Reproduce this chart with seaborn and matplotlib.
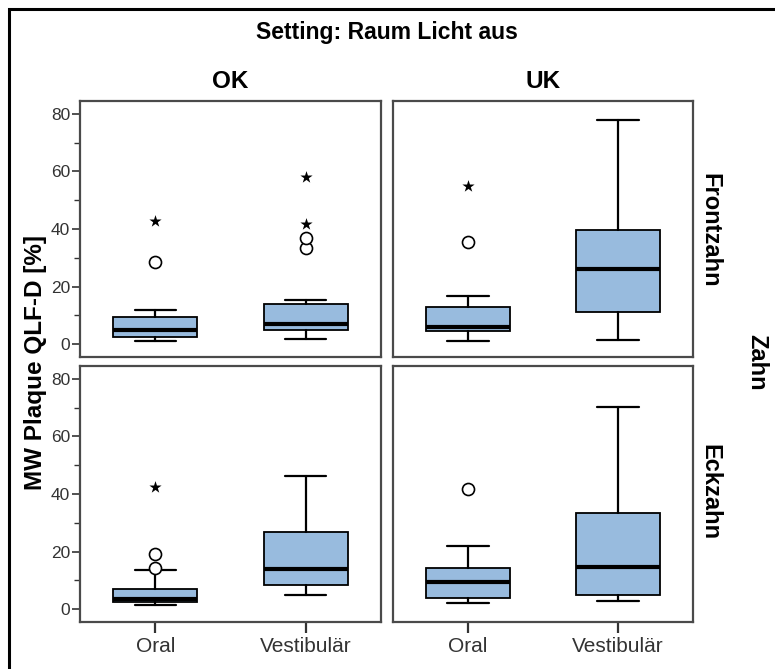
import numpy as np
import pandas as pd
import matplotlib
matplotlib.use("Agg")
import matplotlib.pyplot as plt
import matplotlib.patches as mpatches
import seaborn as sns

# ---- data ----
zahn = ["Frontzahn", "Frontzahn", "Frontzahn", "Frontzahn", "Eckzahn", "Eckzahn", "Eckzahn", "Eckzahn"]
kiefer = ["OK", "OK", "UK", "UK", "OK", "OK", "UK", "UK"]
seite = ["Oral", "Vestibulär", "Oral", "Vestibulär", "Oral", "Vestibulär", "Oral", "Vestibulär"]
whislo = [1.0, 1.6, 1.0, 1.5, 1.4, 4.9, 2.0, 2.9]
q1 = [2.5, 4.9, 4.6, 11.0, 2.5, 8.4, 3.7, 4.8]
med = [4.75, 6.8, 6.0, 26.2, 3.5, 13.9, 9.3, 14.7]
q3 = [9.4, 14.0, 12.8, 39.8, 7.0, 26.9, 14.2, 33.3]
whishi = [11.9, 15.4, 16.8, 77.9, 13.5, 46.4, 21.8, 70.1]
outliers = [[28.6], [33.3, 37.0], [35.6], [], [14.4, 19.3], [], [41.7], []]
extremes = [[42.8], [41.6, 58.2], [55.1], [], [42.3], [], [], []]

seite_order = ["Oral", "Vestibulär"]
kiefer_order = ["OK", "UK"]
zahn_order = ["Frontzahn", "Eckzahn"]
y_ticks = [0, 20, 40, 60, 80]

df = pd.DataFrame({"Zahn": zahn, "Kiefer": kiefer, "Seite": seite,
                   "whislo": whislo, "q1": q1, "med": med, "q3": q3, "whishi": whishi,
                   "out": outliers, "ext": extremes})

sns.set_theme(style="white")
plt.rcParams["font.family"] = ["Liberation Sans", "DejaVu Sans"]
plt.rcParams["text.color"] = "black"

BOX_COLOR = "#98bbde"

def draw(data, **kw):
    ax = plt.gca()
    stats = []
    pos = []
    for _, r in data.iterrows():
        stats.append(dict(whislo=r.whislo, q1=r.q1, med=r.med, q3=r.q3,
                          whishi=r.whishi, fliers=[]))
        pos.append(seite_order.index(r.Seite))
    ax.bxp(stats, positions=pos, widths=0.555, patch_artist=True,
           showfliers=False, capwidths=0.275,
           boxprops=dict(facecolor=BOX_COLOR, edgecolor="black", linewidth=1.3),
           medianprops=dict(color="black", linewidth=3),
           whiskerprops=dict(color="black", linewidth=1.6),
           capprops=dict(color="black", linewidth=1.6))
    for _, r in data.iterrows():
        x = seite_order.index(r.Seite)
        if len(r.out):
            ax.scatter([x] * len(r.out), r.out, s=75, facecolors="white",
                       edgecolors="black", linewidths=1.2, zorder=4)
        if len(r.ext):
            ax.scatter([x] * len(r.ext), r.ext, s=85, marker="*", color="black",
                       linewidths=0, zorder=4)

g = sns.FacetGrid(df, row="Zahn", col="Kiefer", row_order=zahn_order,
                  col_order=kiefer_order, sharex=True, sharey=True,
                  height=3, aspect=1.1, despine=False)
g.map_dataframe(draw)
fig = g.figure
fig.set_size_inches(7.75, 6.69)
fig.set_dpi(100)

L, R1, L2, R2 = 80, 381, 393, 693
rows = [(101, 357), (366, 622)]
W, H = 775, 669
cols = [(L, R1), (L2, R2)]
for i in range(2):
    for j in range(2):
        ax = g.axes[i, j]
        x0, x1 = cols[j]
        y0, y1 = rows[i]
        ax.set_position([x0 / W, 1 - y1 / H, (x1 - x0) / W, (y1 - y0) / H])
        ax.set_xlim(-0.5, 1.5)
        ax.set_ylim(-4.5, 84.5)
        ax.set_title("")
        ax.set_xlabel("")
        ax.set_ylabel("")
        for s in ax.spines.values():
            s.set_color("#4a4a4a")
            s.set_linewidth(1.6)
        ax.set_facecolor("white")
        ax.grid(False)
        ax.set_yticks(y_ticks)
        ax.set_yticks([10, 30, 50, 70], minor=True)
        ax.set_xticks([0, 1])
        ax.set_xticklabels(seite_order)
        ax.tick_params(axis="y", which="major", left=(j == 0), labelleft=(j == 0),
                       length=6, width=1.2, color="#333333", labelsize=12.5,
                       labelcolor="#333333", pad=1)
        ax.tick_params(axis="y", which="minor", left=(j == 0), length=4,
                       width=1.0, color="#333333")
        ax.tick_params(axis="x", bottom=(i == 1), labelbottom=(i == 1),
                       length=8, width=1.6, color="#333333", labelsize=15,
                       labelcolor="#333333", pad=3)

fig.text(387 / W, 1 - 33 / H, "Setting: Raum Licht aus", ha="center", va="center",
         fontsize=16.5, fontweight="bold")
fig.text(230.5 / W, 1 - 82 / H, "OK", ha="center", va="center", fontsize=17.5, fontweight="bold")
fig.text(543 / W, 1 - 82 / H, "UK", ha="center", va="center", fontsize=17.5, fontweight="bold")
fig.text(710 / W, 1 - 230 / H, "Frontzahn", ha="center", va="center", rotation=-90,
         fontsize=17, fontweight="bold")
fig.text(710 / W, 1 - 492 / H, "Eckzahn", ha="center", va="center", rotation=-90,
         fontsize=17, fontweight="bold")
fig.text(757 / W, 1 - 362 / H, "Zahn", ha="center", va="center", rotation=-90,
         fontsize=17, fontweight="bold")
fig.text(36 / W, 1 - 362 / H, "MW Plaque QLF-D [%]", ha="center", va="center", rotation=90,
         fontsize=17.5, fontweight="bold")

fig.patches.append(mpatches.Rectangle((9 / W, -0.1), 1.2, 1 - 9 / H + 0.1,
                                      transform=fig.transFigure, fill=False,
                                      edgecolor="black", linewidth=2.2))

fig.savefig("out.png", dpi=100, facecolor="white")
